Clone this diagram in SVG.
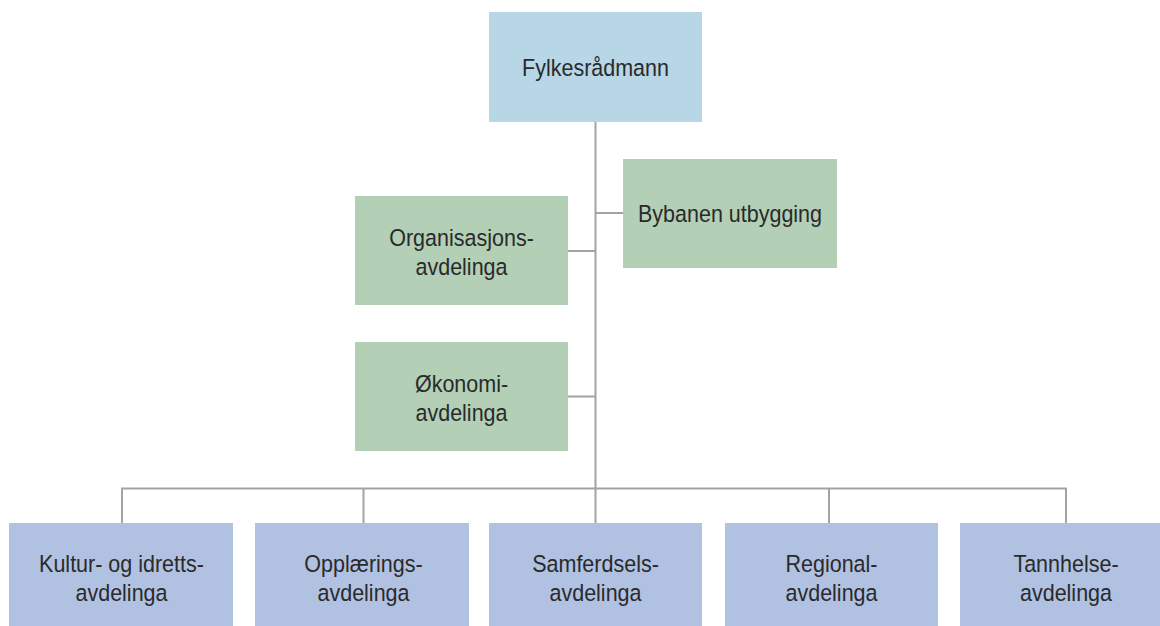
<svg xmlns="http://www.w3.org/2000/svg" width="1160" height="626" viewBox="0 0 1160 626">
<style>
.top{fill:#b7d6e6}
.staff{fill:#b3cfb6}
.dept{fill:#b1c1e2}
.lbl{font-family:"Liberation Sans",Arial,sans-serif;font-size:23.5px;fill:#2a2a2a;text-anchor:middle}
.con{stroke:#a3a3a3;stroke-width:2;fill:none}
</style>
<rect width="1160" height="626" fill="#ffffff"/>
<g id="connectors">
<path class="con" d="M595.5 122V523M595.5 213H623M568 251H595.5M568 396.5H595.5M122 523V488.5H1066V523M363.5 488.5V523M829 488.5V523"/>
</g>
<g id="fylkesradmann">
<rect class="top" x="489" y="12" width="213" height="110"/>
<text class="lbl" transform="matrix(0.915 0 0 1 595.5 76)">Fylkesrådmann</text>
</g>
<g id="bybanen">
<rect class="staff" x="623" y="159" width="214" height="109"/>
<text class="lbl" transform="matrix(0.915 0 0 1 730 222)">Bybanen utbygging</text>
</g>
<g id="organisasjon">
<rect class="staff" x="355" y="196" width="213" height="109"/>
<text class="lbl" transform="matrix(0.915 0 0 1 461.5 0)"><tspan x="0" y="246">Organisasjons-</tspan><tspan x="0" y="275">avdelinga</tspan></text>
</g>
<g id="okonomi">
<rect class="staff" x="355" y="342" width="213" height="109"/>
<text class="lbl" transform="matrix(0.915 0 0 1 461.5 0)"><tspan x="0" y="392">Økonomi-</tspan><tspan x="0" y="421">avdelinga</tspan></text>
</g>
<g id="kultur">
<rect class="dept" x="9" y="523" width="224" height="110"/>
<text class="lbl" transform="matrix(0.915 0 0 1 121.5 0)"><tspan x="0" y="572">Kultur- og idretts-</tspan><tspan x="0" y="601">avdelinga</tspan></text>
</g>
<g id="opplaering">
<rect class="dept" x="255" y="523" width="214" height="110"/>
<text class="lbl" transform="matrix(0.915 0 0 1 363.5 0)"><tspan x="0" y="572">Opplærings-</tspan><tspan x="0" y="601">avdelinga</tspan></text>
</g>
<g id="samferdsel">
<rect class="dept" x="489" y="523" width="213" height="110"/>
<text class="lbl" transform="matrix(0.915 0 0 1 595.5 0)"><tspan x="0" y="572">Samferdsels-</tspan><tspan x="0" y="601">avdelinga</tspan></text>
</g>
<g id="regional">
<rect class="dept" x="725" y="523" width="213" height="110"/>
<text class="lbl" transform="matrix(0.915 0 0 1 831.5 0)"><tspan x="0" y="572">Regional-</tspan><tspan x="0" y="601">avdelinga</tspan></text>
</g>
<g id="tannhelse">
<rect class="dept" x="960" y="523" width="213" height="110"/>
<text class="lbl" transform="matrix(0.915 0 0 1 1066 0)"><tspan x="0" y="572">Tannhelse-</tspan><tspan x="0" y="601">avdelinga</tspan></text>
</g>
</svg>
